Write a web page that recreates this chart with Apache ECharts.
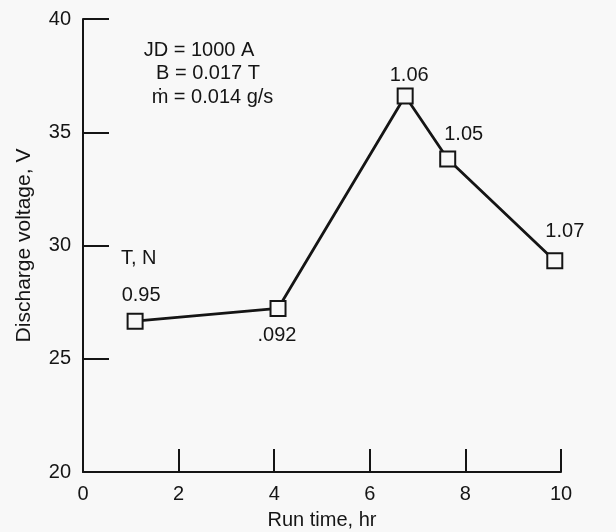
<!DOCTYPE html>
<html>
<head>
<meta charset="utf-8">
<script src="https://cdn.jsdelivr.net/npm/echarts@6/dist/echarts.min.js"></script>
<style>
html,body{margin:0;padding:0;background:#f8f8f8;}
#chart{width:616px;height:532px;}
</style>
</head>
<body>
<div id="chart"></div>
<script>
// Data
const runTime = [1.09, 4.08, 6.74, 7.63, 9.87];          // hr
const voltage = [26.66, 27.22, 36.6, 33.82, 29.33];     // V
const thrustLabels = ['0.95', '.092', '1.06', '1.05', '1.07']; // T, N
const xTicks = [0, 2, 4, 6, 8, 10];
const yTicks = [20, 25, 30, 35, 40];
const conditions = ['JD = 1000 A', 'B = 0.017 T', '\u1E41 = 0.014 g/s'];

const FONT = '"Liberation Sans", Arial, Helvetica, sans-serif';
const INK = '#151515';

// label placement (style only)
const labelOffsets = [[6, -26], [-1, 27], [4, -21], [16, -24], [10, -29]];

const chart = echarts.init(document.getElementById('chart'), null, {renderer: 'canvas'});

const seriesData = runTime.map((x, i) => ({
  value: [x, voltage[i]],
  label: {
    show: true,
    formatter: thrustLabels[i],
    position: 'inside',
    offset: labelOffsets[i],
    fontSize: 20,
    fontFamily: FONT,
    color: INK
  }
}));

const option = {
  backgroundColor: '#f8f8f8',
  animation: false,
  grid: {left: 83, right: 55, top: 19, bottom: 60, containLabel: false, outerBoundsMode: 'none'},
  xAxis: {
    type: 'value',
    min: xTicks[0], max: xTicks[xTicks.length - 1], interval: 2,
    name: 'Run time, hr',
    nameLocation: 'middle',
    nameGap: 38,
    nameTextStyle: {fontSize: 20, fontFamily: FONT, color: INK},
    axisLine: {show: true, onZero: false, lineStyle: {color: INK, width: 2}},
    axisTick: {show: true, inside: true, length: 23, lineStyle: {color: INK, width: 2}},
    axisLabel: {fontSize: 20, fontFamily: FONT, color: INK, margin: 12},
    splitLine: {show: false}
  },
  yAxis: {
    type: 'value',
    min: yTicks[0], max: yTicks[yTicks.length - 1], interval: 5,
    name: 'Discharge voltage, V',
    nameLocation: 'middle',
    nameGap: 48,
    nameTextStyle: {fontSize: 21, fontFamily: FONT, color: INK},
    axisLine: {show: true, onZero: false, lineStyle: {color: INK, width: 2}},
    axisTick: {show: true, inside: true, length: 26, lineStyle: {color: INK, width: 2}},
    axisLabel: {fontSize: 20, fontFamily: FONT, color: INK, margin: 12},
    splitLine: {show: false}
  },
  series: [{
    type: 'line',
    data: seriesData,
    symbol: 'rect',
    symbolSize: 15,
    showAllSymbol: true,
    lineStyle: {color: INK, width: 2.8},
    itemStyle: {color: '#f8f8f8', borderColor: INK, borderWidth: 2},
    z: 3
  }],
  graphic: [
    {type: 'text', x: 199, y: 50, style: {text: conditions[0], font: '20px ' + FONT, fill: INK, align: 'center', verticalAlign: 'middle'}},
    {type: 'text', x: 208, y: 73.5, style: {text: conditions[1], font: '20px ' + FONT, fill: INK, align: 'center', verticalAlign: 'middle'}},
    {type: 'text', x: 212.5, y: 97, style: {text: conditions[2], font: '20px ' + FONT, fill: INK, align: 'center', verticalAlign: 'middle'}},
    {type: 'text', x: 121, y: 258.5, style: {text: 'T, N', font: '20px ' + FONT, fill: INK, align: 'left', verticalAlign: 'middle'}}
  ]
};

chart.setOption(option);
</script>
</body>
</html>
